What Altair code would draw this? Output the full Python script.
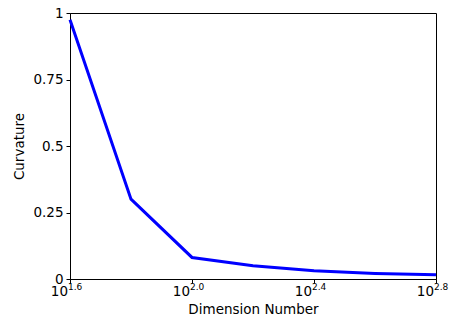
import altair as alt
import pandas as pd

# data
dims = [10**1.6, 10**1.8, 10**2.0, 10**2.2, 10**2.4, 10**2.6, 10**2.8]
curv = [0.975, 0.30, 0.081, 0.050, 0.031, 0.021, 0.016]

xtick_vals = [10**1.6, 10**2.0, 10**2.4, 10**2.8]
xtick_exp = ["1.6", "2.0", "2.4", "2.8"]
ytick_vals = [0, 0.25, 0.5, 0.75, 1]

W, H = 366, 266
FONT = "DejaVu Sans"

df = pd.DataFrame({"dim": dims, "curv": curv})
ticks = pd.DataFrame({"dim": xtick_vals, "base": ["10"] * 4, "exp": xtick_exp})

xscale = alt.Scale(type="log", domain=[10**1.6, 10**2.8], nice=False)
yscale = alt.Scale(domain=[0, 1], nice=False)

line = alt.Chart(df).mark_line(color="#0000ff", strokeWidth=3).encode(
    x=alt.X("dim:Q", scale=xscale,
            axis=alt.Axis(title="Dimension Number", values=xtick_vals, labels=False,
                          grid=False, tickSize=4, tickColor="black", domainColor="black",
                          titleFontSize=13.5, titleFont=FONT, titleFontWeight="normal",
                          titleColor="black", titlePadding=19)),
    y=alt.Y("curv:Q", scale=yscale,
            axis=alt.Axis(title="Curvature", values=ytick_vals, format=".2~f", grid=False,
                          tickSize=4, tickColor="black", domainColor="black",
                          labelFontSize=13.5, labelFont=FONT, labelColor="black",
                          labelPadding=3, titleFontSize=13.5, titleFont=FONT,
                          titleFontWeight="normal", titleColor="black", titlePadding=6)),
)

base_lbl = alt.Chart(ticks).mark_text(
    align="right", baseline="alphabetic", dx=-2, dy=17, fontSize=13.5, font=FONT, color="black"
).encode(x=alt.X("dim:Q", scale=xscale), y=alt.value(H), text="base:N")

exp_lbl = alt.Chart(ticks).mark_text(
    align="left", baseline="alphabetic", dx=-2, dy=11, fontSize=9, font=FONT, color="black"
).encode(x=alt.X("dim:Q", scale=xscale), y=alt.value(H), text="exp:N")

chart = alt.layer(line, base_lbl, exp_lbl).properties(
    width=W, height=H,
    padding={"left": 62, "top": 5, "right": 13, "bottom": 40},
    autosize=alt.AutoSizeParams(type="none"),
).configure(background="white").configure_view(stroke="black", strokeWidth=1)

chart.save("out.html", embed_options={"renderer": "svg", "actions": False})
